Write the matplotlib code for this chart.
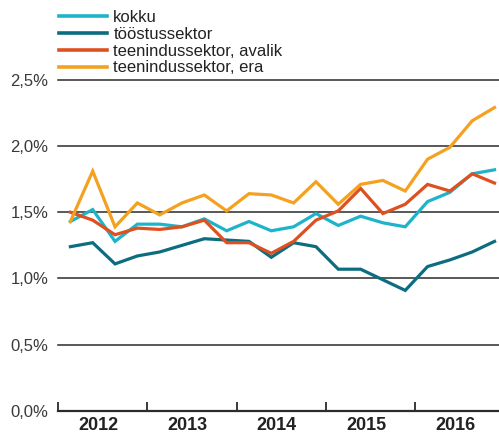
import matplotlib
matplotlib.use("Agg")
import matplotlib.pyplot as plt
from matplotlib.lines import Line2D

plt.rcParams["font.family"] = ["Liberation Sans", "DejaVu Sans"]

years = ["2012", "2013", "2014", "2015", "2016"]
quarters_per_year = 4

kokku = [1.43, 1.52, 1.28, 1.41, 1.41, 1.39, 1.45, 1.36, 1.43, 1.36,
         1.39, 1.49, 1.40, 1.47, 1.42, 1.39, 1.58, 1.65, 1.79, 1.82]
toostus = [1.24, 1.27, 1.11, 1.17, 1.20, 1.25, 1.30, 1.29, 1.28, 1.16,
           1.27, 1.24, 1.07, 1.07, 0.99, 0.91, 1.09, 1.14, 1.20, 1.28]
avalik = [1.50, 1.44, 1.33, 1.38, 1.37, 1.39, 1.44, 1.27, 1.27, 1.19,
          1.28, 1.44, 1.51, 1.68, 1.49, 1.56, 1.71, 1.66, 1.79, 1.72]
era = [1.43, 1.81, 1.39, 1.57, 1.48, 1.57, 1.63, 1.51, 1.64, 1.63,
       1.57, 1.73, 1.56, 1.71, 1.74, 1.66, 1.90, 1.99, 2.19, 2.29]

series_labels = ["kokku", "tööstussektor", "teenindussektor, avalik", "teenindussektor, era"]
series_colors = ["#1db4c9", "#0c6d80", "#de5020", "#f5a120"]
y_ticks = [0.0, 0.5, 1.0, 1.5, 2.0, 2.5]
y_tick_labels = ["0,0%", "0,5%", "1,0%", "1,5%", "2,0%", "2,5%"]

W, H = 499, 436
fig = plt.figure(figsize=(W / 100, H / 100), dpi=100)
ax = fig.add_axes([58 / W, 1 - 411 / H, (W - 58) / W, (411 - 79.7) / H])

x = list(range(len(kokku)))
for values, color in zip([kokku, toostus, avalik, era], series_colors):
    ax.plot(x, values, color=color, lw=2.3, solid_joinstyle="miter", clip_on=False, zorder=3)

# horizontal gridlines
for yv in y_ticks[1:]:
    ax.axhline(yv, color="#2b2b2b", lw=1.1, zorder=1, clip_on=False)

ax.set_xlim(-0.555, 19.2)
ax.set_ylim(0, 2.5)

for side in ["top", "right", "left"]:
    ax.spines[side].set_visible(False)
ax.spines["bottom"].set_color("#2b2b2b")
ax.spines["bottom"].set_linewidth(1.6)

# year separators as ticks on the baseline
separators = [k * quarters_per_year - 0.555 for k in range(len(years))]
ax.set_xticks(separators)
ax.set_xticklabels([])
ax.tick_params(axis="x", which="major", direction="in", length=6.5, width=1.3, color="#2b2b2b")
ax.set_xticks([k * quarters_per_year + 1.24 for k in range(len(years))], minor=True)
ax.set_xticklabels(years, minor=True, fontsize=13, fontweight="bold", color="#222222")
ax.tick_params(axis="x", which="minor", length=0, pad=4)

ax.set_yticks(y_ticks)
ax.set_yticklabels(y_tick_labels, fontsize=12, color="#3a3a3a")
ax.tick_params(axis="y", length=0, pad=7)

handles = [Line2D([0], [0], color=c, lw=2.6) for c in series_colors]
fig.legend(handles, series_labels, loc="upper left", bbox_to_anchor=(59 / W, 1 - 10 / H),
           frameon=False, fontsize=12, handlelength=2.9, handletextpad=0.36,
           labelspacing=0.11, borderaxespad=0, borderpad=0, labelcolor="#222222")

fig.savefig("out.png", dpi=100)
